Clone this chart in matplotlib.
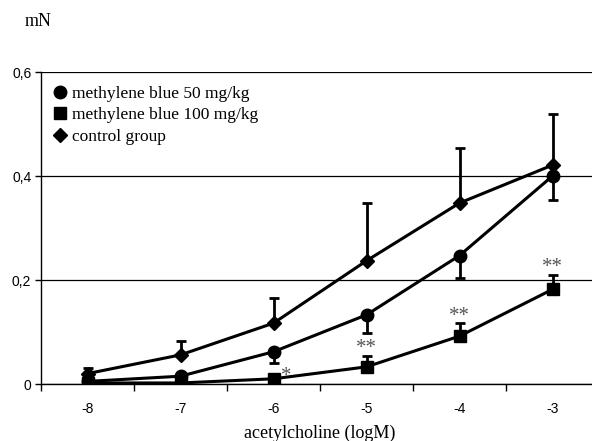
import matplotlib.pyplot as plt
from matplotlib.lines import Line2D
from matplotlib.font_manager import FontProperties

doses = ['-8', '-7', '-6', '-5', '-4', '-3']

mb50 = [0.005, 0.015, 0.062, 0.133, 0.247, 0.400]
mb50_err = [0.003, 0.004, 0.022, 0.034, 0.043, 0.046]   # drawn downward

mb100 = [0.002, 0.002, 0.010, 0.033, 0.092, 0.182]
mb100_err = [0.002, 0.002, 0.003, 0.021, 0.025, 0.028]  # drawn upward

control = [0.020, 0.056, 0.117, 0.237, 0.348, 0.421]
control_err = [0.011, 0.027, 0.048, 0.111, 0.106, 0.099]  # drawn upward

stars = ['', '', '*', '**', '**', '**']

serif = 'Liberation Serif'
sans = 'Liberation Sans'

fig = plt.figure(figsize=(5.92, 4.41), dpi=100)
ax = fig.add_axes([41 / 592, 57 / 441, 558 / 592, 312 / 441])

x = list(range(len(doses)))
zero = [0] * len(doses)

ax.errorbar(x, mb50, yerr=[mb50_err, zero], color='black', lw=2.2, marker='o', ms=9,
            capsize=3.5, capthick=2, elinewidth=2, zorder=3)
ax.errorbar(x, mb100, yerr=[zero, mb100_err], color='black', lw=2.2, marker='s', ms=9,
            capsize=3.5, capthick=2, elinewidth=2, zorder=3)
ax.errorbar(x, control, yerr=[zero, control_err], color='black', lw=2.2, marker='D', ms=7.5,
            capsize=3.5, capthick=2, elinewidth=2, zorder=3)

# significance marks
for i, s in enumerate(stars):
    if not s:
        continue
    if s == '*':
        ax.annotate(s, (i, mb100[i]), xytext=(9, 2), textcoords='offset points',
                    ha='center', va='center', fontsize=15, color='#555555', family=serif,
                    zorder=5)
    else:
        ax.annotate(s, (i, mb100[i] + mb100_err[i]), xytext=(0, 5), textcoords='offset points',
                    ha='center', va='center', fontsize=15, color='#555555', family=serif)

ax.set_xlim(-0.5, len(doses) - 0.5)
ax.set_ylim(0, 0.6)
ax.set_yticks([0, 0.2, 0.4, 0.6])
ax.set_yticklabels(['0', '0,2', '0,4', '0,6'], family=sans, fontsize=10)
ax.set_xticks(x)
ax.set_xticklabels(doses, family=sans, fontsize=10)
ax.set_xticks([i - 0.5 for i in range(len(doses) + 1)], minor=True)
ax.tick_params(axis='x', which='major', length=0, pad=13)
ax.tick_params(axis='x', which='minor', length=5, width=1, direction='out')
ax.tick_params(axis='y', length=4, width=1, direction='out', pad=3)

ax.yaxis.grid(True, color='black', lw=0.9)
ax.set_axisbelow(True)
for side in ['top', 'right']:
    ax.spines[side].set_visible(False)
ax.spines['left'].set_linewidth(1)
ax.spines['bottom'].set_linewidth(1)

ax.set_xlabel('acetylcholine (logM)', family=serif, fontsize=13, labelpad=6)
fig.text(25 / 592, 1 - 22 / 441, 'mN', family=serif, fontsize=13, va='center')

handles = [
    Line2D([], [], color='black', marker='o', ms=9, ls='none'),
    Line2D([], [], color='black', marker='s', ms=8, ls='none'),
    Line2D([], [], color='black', marker='D', ms=7, ls='none'),
]
labels = ['methylene blue 50 mg/kg', 'methylene blue 100 mg/kg', 'control group']
ax.legend(handles, labels, loc='upper left', frameon=False,
          prop=FontProperties(family=serif, size=12.5),
          handlelength=0.6, handletextpad=0.4, borderaxespad=0.4, borderpad=0.4,
          labelspacing=0.3)

fig.savefig('out.png', dpi=100)
